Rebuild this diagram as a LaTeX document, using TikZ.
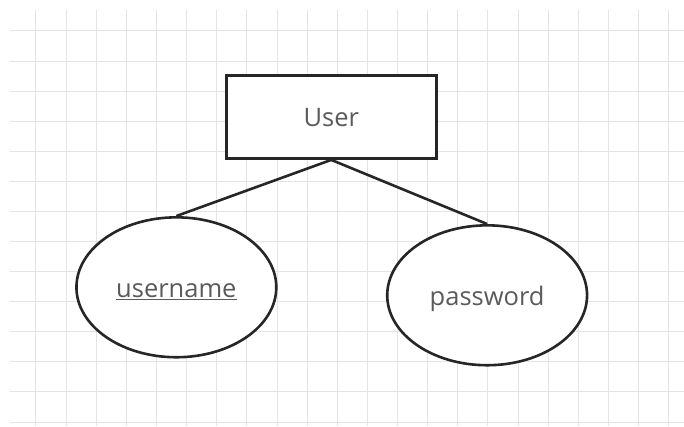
\documentclass[tikz,border=0pt]{standalone}
\usepackage{fontspec}
\setmainfont{Open Sans}
\usetikzlibrary{shapes.geometric,backgrounds}
\definecolor{gridgray}{HTML}{E4E4E4}
\definecolor{labelgray}{HTML}{5A5A5A}
\definecolor{edgeblack}{HTML}{262626}
\pgfdeclarelayer{gridlayer}
\pgfsetlayers{gridlayer,background,main}
\tikzset{
  labeltext/.style={text=labelgray, font=\fontsize{25.5}{28}\selectfont,
    text height=20pt, text depth=0pt},
  entity/.style={draw=edgeblack, line width=3pt, fill=white, rectangle,
    minimum width=210pt, minimum height=83pt, inner sep=0pt, labeltext},
  attrib/.style={draw=edgeblack, line width=2.6pt, fill=white, ellipse,
    minimum width=200pt, minimum height=140pt, inner sep=0pt, labeltext},
  link/.style={draw=edgeblack, line width=2.6pt},
}
\begin{document}
\begin{tikzpicture}[x=1pt,y=-1pt]
  \begin{pgfonlayer}{gridlayer}
    \fill[white] (0,0) rectangle (684,426);
    % background grid
    \foreach \k in {0,...,21} {
      \draw[gridgray, line width=1pt] ({36+30.15*\k},10) -- ({36+30.15*\k},426);
    }
    \foreach \k in {0,...,13} {
      \draw[gridgray, line width=1pt] (10,{31+30.1*\k}) -- (684,{31+30.1*\k});
    }
  \end{pgfonlayer}
  \useasboundingbox (0,0) rectangle (684,426);
  % entity and its attributes
  \node[entity] (user) at (331.5,117) {User};
  \node[attrib] (uname) at (176.5,287.5) {\underline{username}};
  \node[attrib] (pwd) at (487.5,295.5) {password};
  % connectors, kept under the shapes
  \begin{pgfonlayer}{background}
    \draw[link] (user.south) -- (uname.north);
    \draw[link] (user.south) -- (pwd.north);
  \end{pgfonlayer}
\end{tikzpicture}
\end{document}
